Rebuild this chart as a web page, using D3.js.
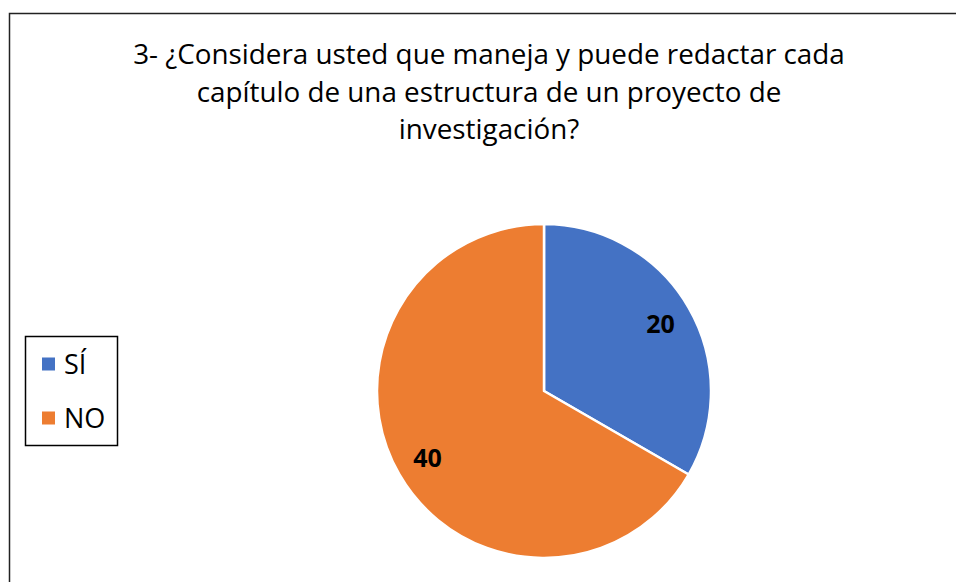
<!DOCTYPE html>
<html>
<head>
<meta charset="utf-8">
<script src="https://cdn.jsdelivr.net/npm/d3@7"></script>
<style>
  html, body { margin: 0; padding: 0; background: #fff; }
  svg { display: block; font-family: "Open Sans", "Liberation Sans", sans-serif; }
</style>
</head>
<body>
<svg id="chart" width="956" height="582"></svg>
<script>
// data
var categories = ["SÍ", "NO"];
var values = [20, 40];
var sliceColors = ["#4472C4", "#ED7D31"];
var titleLines = [
  "3- ¿Considera usted que maneja y puede redactar cada",
  "capítulo de una estructura de un proyecto de",
  "investigación?"
];

var svg = d3.select("#chart");

// outer chart frame (runs off the right and bottom edge)
svg.append("rect")
  .attr("x", 9.5).attr("y", 13.5).attr("width", 980).attr("height", 620)
  .attr("fill", "#fff").attr("stroke", "#222").attr("stroke-width", 1.5);

// title, sized so the first line spans about 712px
var title = svg.append("g").attr("text-anchor", "middle").attr("fill", "#000");
var fs = 25;
var probe = title.append("text").attr("font-size", fs).text(titleLines[0]);
var wLen = probe.node().getComputedTextLength();
if (wLen > 0) fs = fs * 712 / wLen;
probe.remove();
titleLines.forEach(function (t, i) {
  title.append("text")
    .attr("x", 489).attr("y", 64 + i * 37.5)
    .attr("font-size", fs)
    .text(t);
});

// pie
var cx = 544, cy = 391, r = 167;
var pie = d3.pie().sort(null).value(function (d) { return d; });
var arcs = pie(values);
var arc = d3.arc().innerRadius(0).outerRadius(r);

var g = svg.append("g").attr("transform", "translate(" + cx + "," + cy + ")");
g.selectAll("path").data(arcs).enter().append("path")
  .attr("d", arc)
  .attr("fill", function (d, i) { return sliceColors[i]; })
  .attr("stroke", "#fff").attr("stroke-width", 2.5)
  .attr("stroke-linejoin", "round");

// data labels
var labelArc = d3.arc().innerRadius(r * 0.805).outerRadius(r * 0.805);
g.selectAll("text.lbl").data(arcs).enter().append("text")
  .attr("class", "lbl")
  .attr("transform", function (d) {
    var p = labelArc.centroid(d);
    return "translate(" + p[0] + "," + (p[1] + 9) + ")";
  })
  .attr("text-anchor", "middle")
  .attr("font-size", 25).attr("font-weight", "bold").attr("fill", "#000")
  .text(function (d) { return d.data; });

// legend
var legend = svg.append("g");
legend.append("rect")
  .attr("x", 25.5).attr("y", 336.5).attr("width", 92).attr("height", 109)
  .attr("fill", "#fff").attr("stroke", "#000").attr("stroke-width", 1.5);
var ly = d3.scalePoint().domain(categories).range([364, 418]);
categories.forEach(function (c, i) {
  legend.append("rect")
    .attr("x", 42).attr("y", ly(c) - 6.5).attr("width", 13).attr("height", 13)
    .attr("fill", sliceColors[i]);
  legend.append("text")
    .attr("x", 64).attr("y", ly(c) + 9.5)
    .attr("font-size", 27).attr("fill", "#000")
    .text(c);
});
</script>
</body>
</html>
